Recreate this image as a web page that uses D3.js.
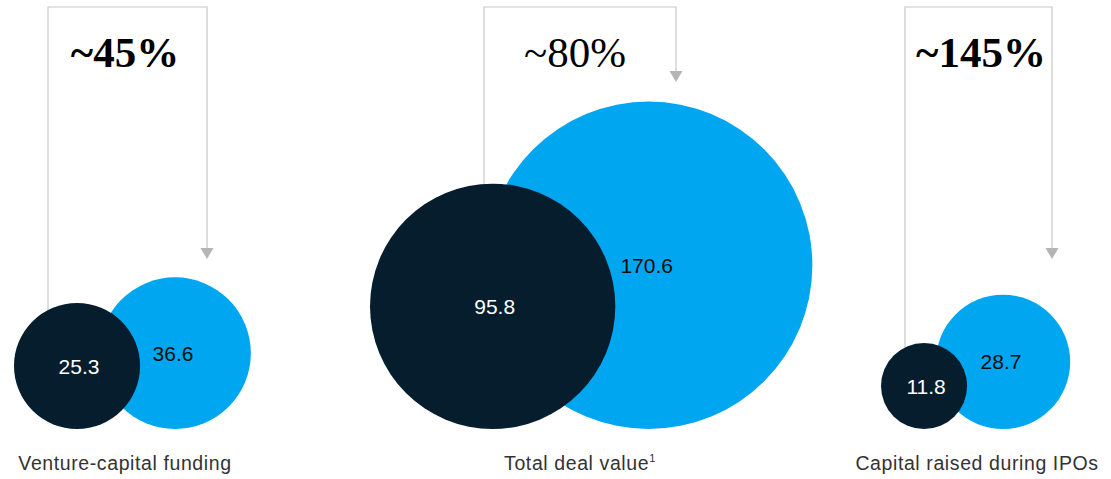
<!DOCTYPE html>
<html>
<head>
<meta charset="utf-8">
<script src="https://cdn.jsdelivr.net/npm/d3@7"></script>
<style>
  html, body { margin: 0; padding: 0; background: white; }
  svg { display: block; }
</style>
</head>
<body>
<svg id="chart"></svg>
<script>
// values, $ billion
var categories = ["Venture-capital funding", "Total deal value", "Capital raised during IPOs"];
var before = [25.3, 95.8, 11.8];
var after = [36.6, 170.6, 28.7];
var growth = ["~45%", "~80%", "~145%"];
var footnote = ["", "1", ""];

// layout per group (pixels)
var layout = {
  darkLeft:   [14, 370, 881],
  centreDist: [98, 156, 79],
  bracketX:   [48, 484, 905],
  arrowX:     [207, 676, 1052],
  arrowTip:   [259, 82, 259],
  titleX:     [125, 575, 981],
  labelX:     [125, 580, 977],
  titleBold:  [true, false, true]
};

var width = 1111, height = 479,
    bottom = 429, bracketTop = 7;

var colors = {dark: "#061d2e", blue: "#00a7f0", line: "#c8c8c8", arrow: "#b5b5b5"};

var svg = d3.select("#chart").attr("width", width).attr("height", height);

var r = d3.scaleSqrt().domain([0, d3.max(after)]).range([0, 163.7]);

var groups = categories.map(function(c, i){
  var rd = r(before[i]), rb = r(after[i]);
  var dx = layout.darkLeft[i] + rd;
  return {
    cat: c, i: i,
    before: before[i], after: after[i],
    rd: rd, rb: rb,
    dx: dx, dy: bottom - rd,
    bx: dx + layout.centreDist[i], by: bottom - rb
  };
});

var g = svg.selectAll("g.group").data(groups).enter().append("g").attr("class", "group");

// bracket connector
g.append("path")
  .attr("fill", "none")
  .attr("stroke", colors.line)
  .attr("stroke-width", 1.2)
  .attr("d", function(d){
    var ax = layout.arrowX[d.i], tip = layout.arrowTip[d.i];
    return "M" + layout.bracketX[d.i] + "," + d.dy +
           "V" + bracketTop + "H" + ax + "V" + (tip - 10);
  });

g.append("path")
  .attr("fill", colors.arrow)
  .attr("d", function(d){
    var ax = layout.arrowX[d.i], tip = layout.arrowTip[d.i];
    return "M" + (ax - 6.5) + "," + (tip - 11) + "L" + (ax + 6.5) + "," + (tip - 11) +
           "L" + ax + "," + tip + "Z";
  });

// circles
g.append("circle")
  .attr("cx", d => d.bx).attr("cy", d => d.by).attr("r", d => d.rb)
  .attr("fill", colors.blue);

g.append("circle")
  .attr("cx", d => d.dx).attr("cy", d => d.dy).attr("r", d => d.rd)
  .attr("fill", colors.dark);

// values
g.append("text")
  .attr("x", d => d.bx - 2).attr("y", d => d.by)
  .attr("dy", "0.36em")
  .attr("text-anchor", "middle")
  .style("font-family", "'Liberation Sans', Arial, sans-serif")
  .style("font-size", "21px")
  .style("fill", "#0b0b0b")
  .text(d => d.after.toFixed(1));

g.append("text")
  .attr("x", d => d.dx + 2).attr("y", d => d.dy)
  .attr("dy", "0.36em")
  .attr("text-anchor", "middle")
  .style("font-family", "'Liberation Sans', Arial, sans-serif")
  .style("font-size", "21px")
  .style("fill", "white")
  .text(d => d.before.toFixed(1));

// growth
g.append("text")
  .attr("x", d => layout.titleX[d.i]).attr("y", 67)
  .attr("text-anchor", "middle")
  .style("font-family", "'Liberation Serif', 'Times New Roman', serif")
  .style("font-size", "43px")
  .style("font-weight", d => layout.titleBold[d.i] ? "bold" : "normal")
  .style("fill", "#000")
  .text(d => growth[d.i]);

// category labels
var lab = g.append("text")
  .attr("x", d => layout.labelX[d.i]).attr("y", 470)
  .attr("text-anchor", "middle")
  .style("font-family", "'Liberation Sans', Arial, sans-serif")
  .style("font-size", "19.5px")
  .style("letter-spacing", "0.6px")
  .style("fill", "#333");

lab.append("tspan").text(d => d.cat);
lab.append("tspan")
  .attr("dy", -8)
  .style("font-size", "11px")
  .text(d => footnote[d.i]);
</script>
</body>
</html>
